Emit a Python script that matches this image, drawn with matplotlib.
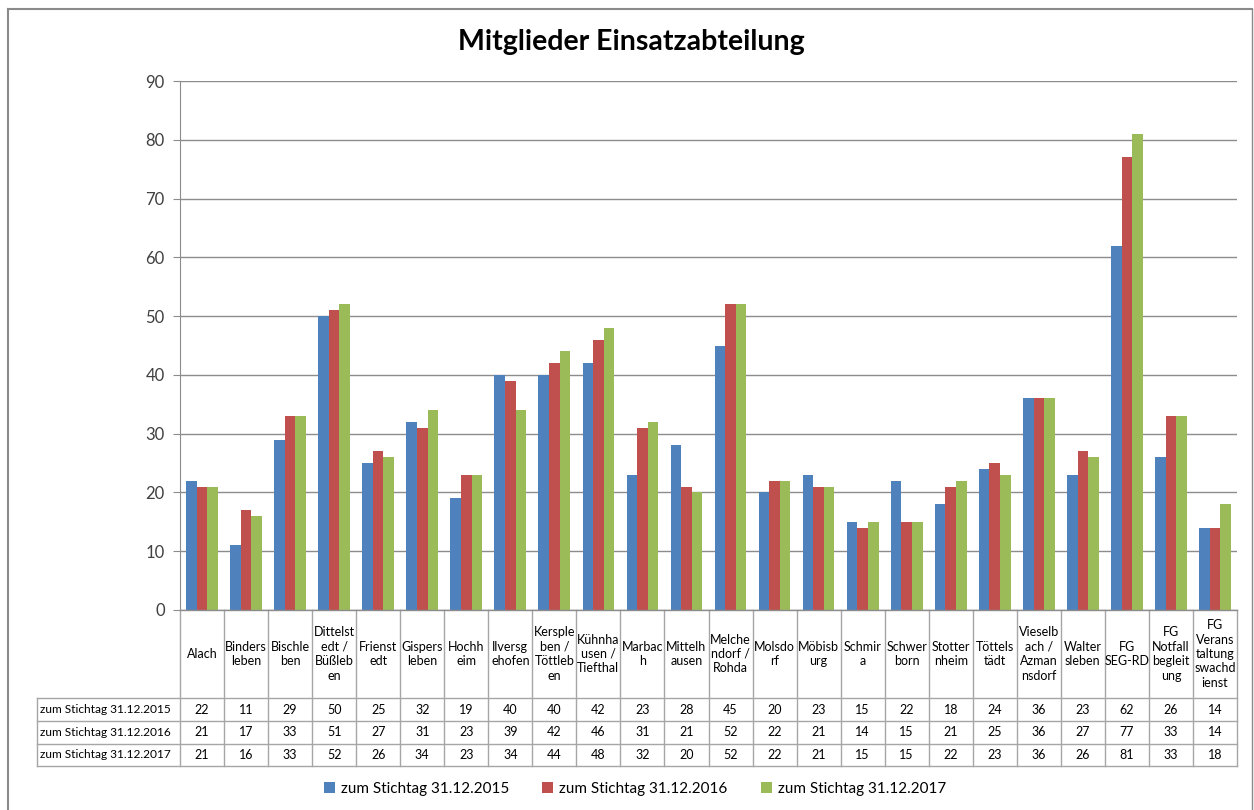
import matplotlib
matplotlib.use("Agg")
import matplotlib.pyplot as plt
import numpy as np

categories = [
    "Alach", "Binders\nleben", "Bischle\nben", "Dittelst\nedt /\nBüßleb\nen",
    "Frienst\nedt", "Gispers\nleben", "Hochh\neim", "Ilversg\nehofen",
    "Kersple\nben /\nTöttleb\nen", "Kühnha\nusen /\nTiefthal", "Marbac\nh",
    "Mittelh\nausen", "Melche\nndorf /\nRohda", "Molsdo\nrf", "Möbisb\nurg",
    "Schmir\na", "Schwer\nborn", "Stotter\nnheim", "Töttels\ntädt",
    "Vieselb\nach /\nAzman\nnsdorf", "Walter\nsleben", "FG\nSEG-RD",
    "FG\nNotfall\nbegleit\nung", "FG\nVerans\ntaltung\nswachd\nienst",
]
series_names = ["zum Stichtag 31.12.2015", "zum Stichtag 31.12.2016", "zum Stichtag 31.12.2017"]
v2015 = [22, 11, 29, 50, 25, 32, 19, 40, 40, 42, 23, 28, 45, 20, 23, 15, 22, 18, 24, 36, 23, 62, 26, 14]
v2016 = [21, 17, 33, 51, 27, 31, 23, 39, 42, 46, 31, 21, 52, 22, 21, 14, 15, 21, 25, 36, 27, 77, 33, 14]
v2017 = [21, 16, 33, 52, 26, 34, 23, 34, 44, 48, 32, 20, 52, 22, 21, 15, 15, 22, 23, 36, 26, 81, 33, 18]
yticks = [0, 10, 20, 30, 40, 50, 60, 70, 80, 90]
title = "Mitglieder Einsatzabteilung"

series = [v2015, v2016, v2017]
colors = ["#4F81BD", "#C0504D", "#9BBB59"]
FONT = ["Lato", "DejaVu Sans"]
plt.rcParams["font.family"] = FONT

W, H = 1254, 810
fig = plt.figure(figsize=(W / 100, H / 100), dpi=100)
fig.patch.set_facecolor("white")

# plot area in pixels
L, R, T, B = 180, 1237, 81, 610
ax = fig.add_axes([L / W, 1 - B / H, (R - L) / W, (B - T) / H])
n = len(categories)
x = np.arange(n)
bw = 0.24
handles = []
for i, (vals, c, name) in enumerate(zip(series, colors, series_names)):
    h = ax.bar(x + (i - 1) * bw, vals, width=bw, color=c, label=name, zorder=3)
    handles.append(h)
ax.set_xlim(-0.5, n - 0.5)
ax.set_ylim(0, 90)
ax.set_yticks(yticks)
ax.set_xticks([])
ax.grid(axis="y", color="#8c8c8c", linewidth=1.0, zorder=0)
for s in ["top", "right", "bottom"]:
    ax.spines[s].set_visible(False)
ax.spines["left"].set_color("#8c8c8c")
ax.tick_params(axis="y", length=5, color="#8c8c8c", labelsize=12, labelcolor="#404040", pad=6)

# overlay axes in pixel coordinates for data table and frame
ov = fig.add_axes([0, 0, 1, 1], zorder=5)
ov.set_xlim(0, W)
ov.set_ylim(H, 0)
ov.axis("off")
ov.patch.set_alpha(0)

lc = "#a6a6a6"
colw = (R - L) / n
rows_y = [B, 698, 721, 744, 766]
for k in range(n + 1):
    xe = L + k * colw
    ov.plot([xe, xe], [B, rows_y[-1]], color=lc, lw=1)
for yy in rows_y[1:]:
    ov.plot([37, R], [yy, yy], color=lc, lw=1)
ov.plot([37, 37], [rows_y[1], rows_y[-1]], color=lc, lw=1)
ov.plot([L, R], [B, B], color="#8c8c8c", lw=1)

tfs = 9
for k, cat in enumerate(categories):
    xc = L + (k + 0.5) * colw
    ov.text(xc, (B + rows_y[1]) / 2, cat, ha="center", va="center", fontsize=tfs,
            color="#000000", linespacing=1.25)
for r, (vals, name) in enumerate(zip(series, series_names)):
    yc = (rows_y[r + 1] + rows_y[r + 2]) / 2
    ov.text(40, yc, name, ha="left", va="center", fontsize=8.6, color="#000000")
    for k, v in enumerate(vals):
        ov.text(L + (k + 0.5) * colw, yc, str(v), ha="center", va="center", fontsize=tfs, color="#000000")

# frame
fc = "#8a8a8a"
ov.plot([8, 8], [9, H], color=fc, lw=1.5)
ov.plot([8, 1252], [9, 9], color=fc, lw=1.5)
ov.plot([1252, 1252], [9, H], color=fc, lw=1.0)

# title
ov.text(631, 42, title, ha="center", va="center", fontsize=20.5, fontweight="bold", color="#000000")

# legend
fig.legend(handles=handles, labels=series_names, loc="center", bbox_to_anchor=(635 / W, 1 - 789 / H),
           ncol=3, frameon=False, fontsize=11, handlelength=0.7, handleheight=0.7,
           handletextpad=0.4, columnspacing=2.2)

fig.savefig("out.png", dpi=100, facecolor="white")
